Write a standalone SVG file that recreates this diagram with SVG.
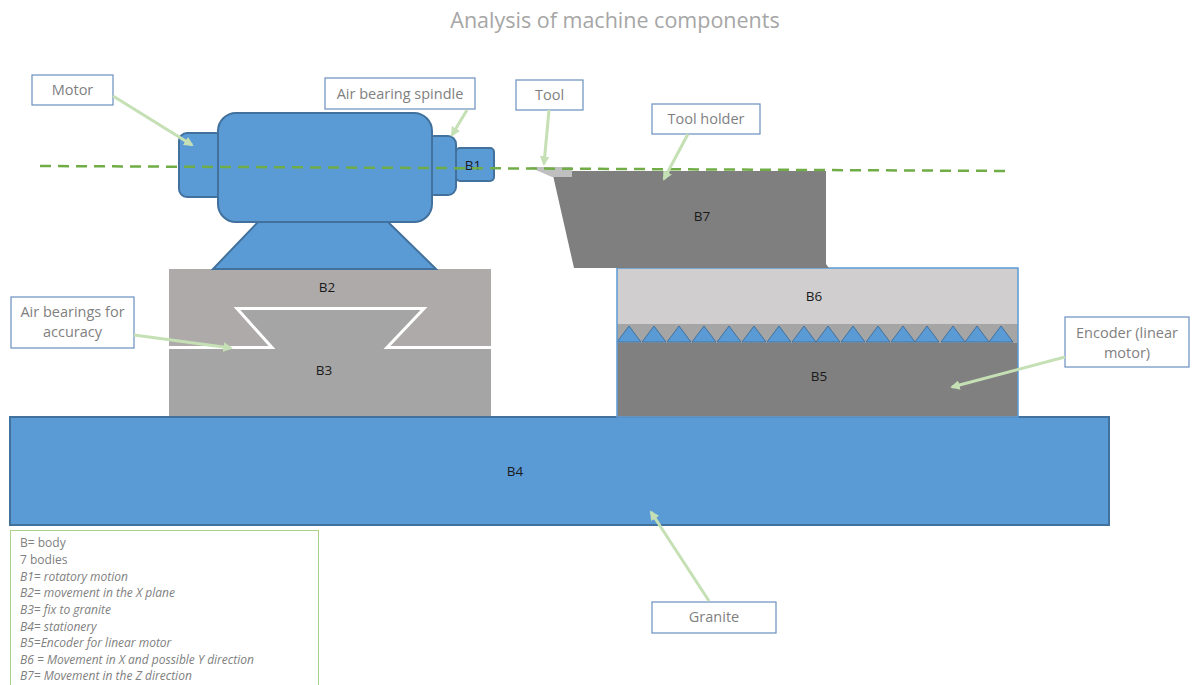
<svg xmlns="http://www.w3.org/2000/svg" width="1192" height="685" viewBox="0 0 1192 685">
  <defs>
    <style>
      .title { font-family: "Open Sans", "Liberation Sans", sans-serif; font-size: 21.5px; fill: #A6A6A6; text-anchor: middle; }
      .callout rect { fill: #FFFFFF; stroke: #6A8FBF; stroke-width: 1.2; }
      .callout text { font-family: "Open Sans", "Liberation Sans", sans-serif; font-size: 14.5px; fill: #7F7F7F; text-anchor: middle; }
      .blue { fill: #5B9BD5; stroke: #41719C; stroke-width: 2; }
      .body-label { font-family: "Open Sans", "Liberation Sans", sans-serif; font-size: 13.5px; fill: #1A1A1A; text-anchor: middle; }
      .leader { stroke: #C5E0B4; stroke-width: 3; fill: none; marker-end: url(#head); }
      .legend { font-family: "Open Sans", "Liberation Sans", sans-serif; font-size: 12px; fill: #808080; }
      .legend.it { font-style: italic; }
    </style>
    <marker id="head" viewBox="0 0 10 10" refX="8" refY="5" markerWidth="3.2" markerHeight="3.2" orient="auto" markerUnits="strokeWidth">
      <path d="M0,0 L10,5 L0,10 Z" fill="#C5E0B4"/>
    </marker>
  </defs>

  <rect width="1192" height="685" fill="#FFFFFF"/>
  <text class="title" x="615" y="28">Analysis of machine components</text>

  <!-- granite base -->
  <g id="b4">
    <rect class="blue" x="10" y="417" width="1099" height="108"/>
    <text class="body-label" x="515" y="476">B4</text>
  </g>

  <!-- carriage B2 riding on dovetail guide B3 -->
  <g id="b2">
    <rect x="169" y="269" width="322" height="79" fill="#AEAAAA"/>
    <text class="body-label" x="327" y="292">B2</text>
  </g>
  <g id="b3">
    <polygon points="169,348 272,348 237,308 424,308 387,348 491,348 491,416 169,416" fill="#A5A5A5"/>
    <polyline points="169,347.5 272,347.5 237,308.5 424,308.5 387,347.5 491,347.5" fill="none" stroke="#FFFFFF" stroke-width="3"/>
    <text class="body-label" x="324" y="375">B3</text>
  </g>

  <!-- motor with spindle B1 -->
  <g id="motor">
    <polygon class="blue" points="258,222 388,222 436,269 213,269" stroke-width="1.5"/>
    <rect class="blue" x="179" y="133" width="45" height="64" rx="8"/>
    <rect class="blue" x="426" y="136" width="30" height="59" rx="8"/>
    <rect class="blue" x="218" y="113" width="214" height="109" rx="18"/>
  </g>
  <g id="b1">
    <rect class="blue" x="456" y="148" width="38" height="33" rx="4"/>
    <text class="body-label" x="473" y="170">B1</text>
  </g>

  <!-- linear stage: B6 over encoder strip over B5 -->
  <g id="b5">
    <rect x="617" y="343" width="401" height="74" fill="#808080"/>
    <text class="body-label" x="819" y="381">B5</text>
  </g>
  <g id="encoder-strip">
    <rect x="617" y="324" width="401" height="19" fill="#A5A5A5"/>
    <g fill="#5B9BD5" stroke="#41719C" stroke-width="1">
      <polygon points="617,342 629,326 641,342"/>
      <polygon points="642,342 654,326 666,342"/>
      <polygon points="667,342 679,326 691,342"/>
      <polygon points="692,342 704,326 716,342"/>
      <polygon points="717,342 729,326 741,342"/>
      <polygon points="742,342 754,326 766,342"/>
      <polygon points="767,342 779,326 791,342"/>
      <polygon points="792,342 804,326 816,342"/>
      <polygon points="816,342 828,326 840,342"/>
      <polygon points="841,342 853,326 865,342"/>
      <polygon points="866,342 878,326 890,342"/>
      <polygon points="891,342 903,326 915,342"/>
      <polygon points="915,342 927,326 939,342"/>
      <polygon points="941,342 953,326 965,342"/>
      <polygon points="965,342 977,326 989,342"/>
      <polygon points="989,342 1001,326 1013,342"/>
    </g>
  </g>
  <g id="b6">
    <rect x="617" y="268" width="401" height="56" fill="#D0CECE"/>
    <text class="body-label" x="814" y="301">B6</text>
  </g>
  <rect x="617" y="268" width="401" height="149" fill="none" stroke="#5B9BD5" stroke-width="1.5"/>

  <!-- tool holder B7 and tool -->
  <g id="b7">
    <polygon points="552,171 826,171 826,264 829,268 574,268" fill="#7F7F7F"/>
    <text class="body-label" x="702" y="221">B7</text>
  </g>
  <g id="tool">
    <polygon points="529,167 572,167 572,177 552,177" fill="#BFBFBF"/>
  </g>

  <!-- spindle axis -->
  <line x1="40" y1="166" x2="1012" y2="171" stroke="#70AD47" stroke-width="2.5" stroke-dasharray="11,7"/>

  <!-- callout boxes -->
  <g id="label-motor" class="callout">
    <rect x="32" y="75" width="81" height="30"/>
    <text x="72.5" y="95">Motor</text>
  </g>
  <g id="label-spindle" class="callout">
    <rect x="325" y="78" width="150" height="31"/>
    <text x="400" y="98.5">Air bearing spindle</text>
  </g>
  <g id="label-tool" class="callout">
    <rect x="516" y="80" width="67" height="30"/>
    <text x="549.5" y="100">Tool</text>
  </g>
  <g id="label-holder" class="callout">
    <rect x="652" y="104" width="108" height="30"/>
    <text x="706" y="124">Tool holder</text>
  </g>
  <g id="label-bearings" class="callout">
    <rect x="11" y="297" width="123" height="51"/>
    <text x="72.5" y="317">Air bearings for</text>
    <text x="72.5" y="337">accuracy</text>
  </g>
  <g id="label-encoder" class="callout">
    <rect x="1065" y="317" width="124" height="50"/>
    <text x="1127" y="338">Encoder (linear</text>
    <text x="1127" y="358">motor)</text>
  </g>
  <g id="label-granite" class="callout">
    <rect x="652" y="602" width="124" height="31"/>
    <text x="714" y="622">Granite</text>
  </g>

  <!-- leader arrows -->
  <g id="connectors">
    <line class="leader" x1="113" y1="96" x2="192" y2="145"/>
    <line class="leader" x1="467" y1="110" x2="452" y2="135"/>
    <line class="leader" x1="549" y1="110" x2="544" y2="164"/>
    <line class="leader" x1="688" y1="134" x2="664" y2="179"/>
    <line class="leader" x1="134" y1="335" x2="231" y2="348"/>
    <line class="leader" x1="1065" y1="357" x2="952" y2="387"/>
    <line class="leader" x1="709" y1="601" x2="651" y2="512"/>
  </g>

  <!-- legend -->
  <g id="legend">
    <rect x="10.5" y="530.5" width="308" height="160" fill="#FFFFFF" stroke="#A9D18E" stroke-width="1"/>
    <text class="legend" x="20" y="547">B= body</text>
    <text class="legend" x="20" y="564">7 bodies</text>
    <text class="legend it" x="20" y="581">B1= rotatory motion</text>
    <text class="legend it" x="20" y="597">B2= movement in the X plane</text>
    <text class="legend it" x="20" y="614">B3= fix to granite</text>
    <text class="legend it" x="20" y="631">B4= stationery</text>
    <text class="legend it" x="20" y="647">B5=Encoder for linear motor</text>
    <text class="legend it" x="20" y="664">B6 = Movement in X and possible Y direction</text>
    <text class="legend it" x="20" y="680">B7= Movement in the Z direction</text>
  </g>
</svg>
